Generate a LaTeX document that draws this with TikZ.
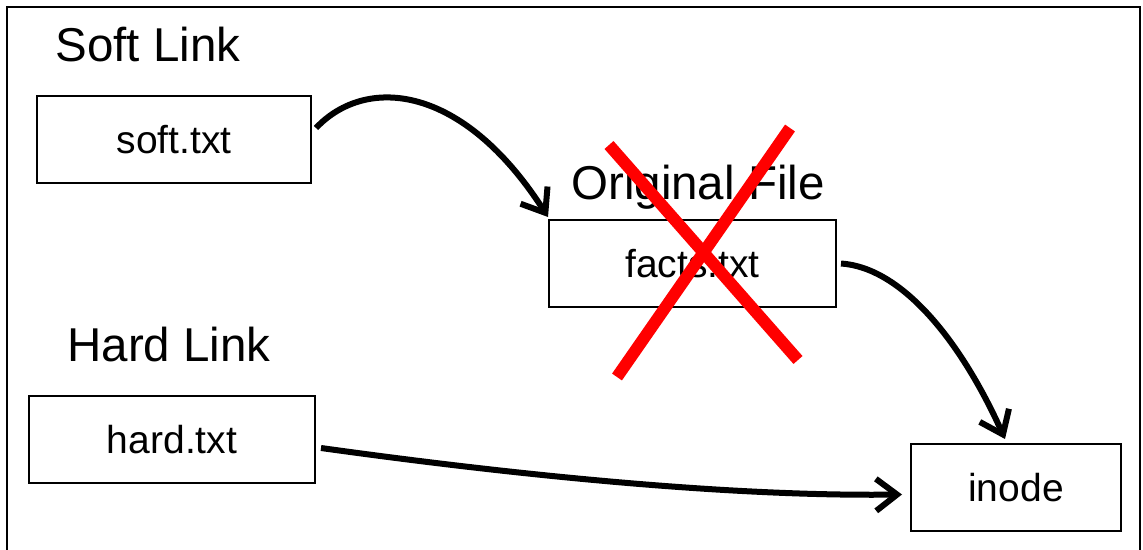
\documentclass[tikz,border=0pt]{standalone}
\usepackage{fontspec}
\setmainfont{Liberation Sans}
\usetikzlibrary{arrows.meta}
\begin{document}
\begin{tikzpicture}[x=1pt,y=1pt,
  filebox/.style={draw=black, line width=2pt, minimum width=#1, minimum height=87pt, inner sep=0pt, font=\fontsize{39}{46}\selectfont},
  header/.style={anchor=base, inner sep=0pt, font=\fontsize{47.5}{56}\selectfont},
  link/.style={line width=6pt, -{Straight Barb[length=21pt,width=32pt,line width=6pt]}},
  cross/.style={draw=red, line width=12pt}]
\useasboundingbox (0,0) rectangle (1143,549);
\clip (0,0) rectangle (1143,549);
\draw[line width=2.5pt] (7,-10) -- (7,542) -- (1140,542) -- (1140,-10);
\node[filebox=274pt] (soft) at (174,409) {soft.txt};
\node[filebox=287pt] (facts) at (692.5,285.5) {facts.txt};
\node[filebox=286pt] (hard) at (172,109.5) {hard.txt};
\node[filebox=210pt] (inode) at (1016,61.5) {inode};
\node[header] (softlabel) at (148,487) {Soft Link};
\node[header] (origlabel) at (698,349) {Original File};
\node[header] (hardlabel) at (169,187) {Hard Link};
\draw[link] ([shift={(4,12)}]soft.east) .. controls +(50,53) and +(-85,133) .. ([shift={(0,2)}]facts.north west);
\draw[link] ([shift={(4,0)}]facts.east) .. controls +(60,-4) and +(-45,100) .. ([shift={(-11,4)}]inode.north);
\draw[link] ([shift={(5,-8.5)}]hard.east) .. controls +(230,-32) and +(-152,-2) .. ([shift={(-8,-7)}]inode.west);
\coordinate (xa1) at (609,404);
\coordinate (xa2) at (798,189);
\coordinate (xb1) at (790,421);
\coordinate (xb2) at (617,172);
\draw[cross] (xa1) -- (xa2);
\draw[cross] (xb1) -- (xb2);
\end{tikzpicture}
\end{document}
